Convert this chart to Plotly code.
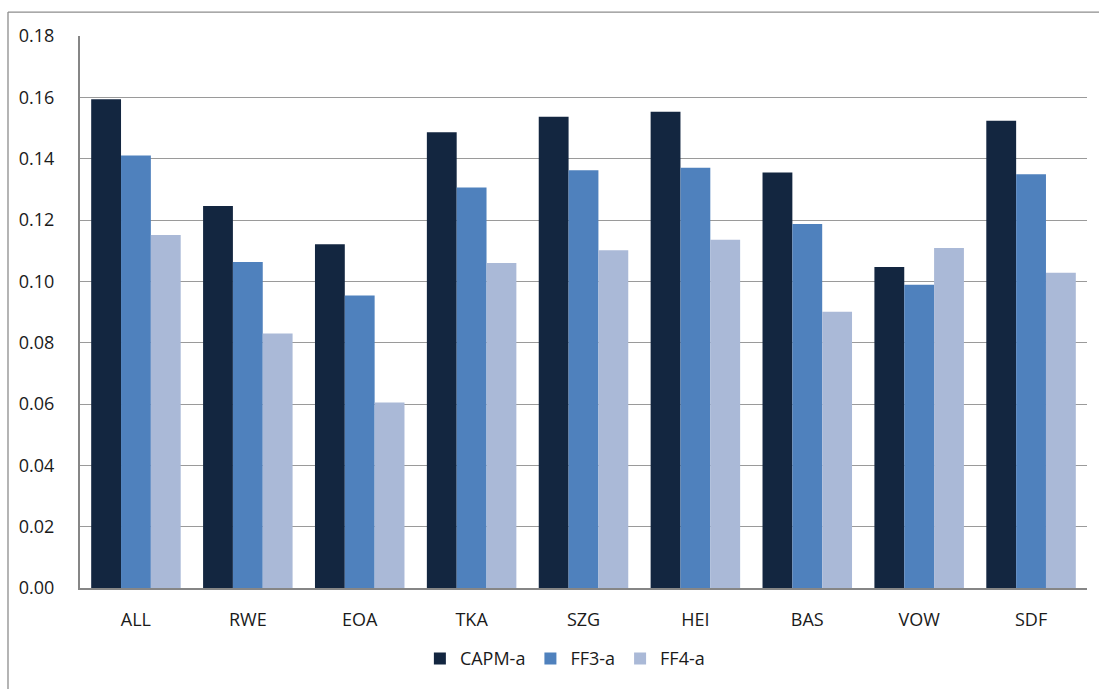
import plotly.graph_objects as go

categories = ["ALL", "RWE", "EOA", "TKA", "SZG", "HEI", "BAS", "VOW", "SDF"]
capm_a = [0.1594, 0.1246, 0.1121, 0.1486, 0.1537, 0.1553, 0.1355, 0.1047, 0.1524]
ff3_a = [0.1410, 0.1063, 0.0954, 0.1306, 0.1362, 0.1370, 0.1187, 0.0989, 0.1349]
ff4_a = [0.1151, 0.0830, 0.0605, 0.1060, 0.1101, 0.1136, 0.0901, 0.1109, 0.1028]
y_ticks = [0.00, 0.02, 0.04, 0.06, 0.08, 0.10, 0.12, 0.14, 0.16, 0.18]

FONT = "Open Sans"
FS = 18
TXT = "#1a1a1a"

fig = go.Figure()
fig.add_trace(go.Bar(name="CAPM-a", x=categories, y=capm_a, marker=dict(color="#132640", line=dict(width=0))))
fig.add_trace(go.Bar(name="FF3-a", x=categories, y=ff3_a, marker=dict(color="#4f81bd", line=dict(width=0))))
fig.add_trace(go.Bar(name="FF4-a", x=categories, y=ff4_a, marker=dict(color="#aab9d7", line=dict(width=0))))

W, H = 1099, 689
L, R, T, B = 80, 1099 - 1087, 36, 689 - 590
pw = W - L - R
ph = H - T - B

fig.update_layout(
    width=W, height=H,
    margin=dict(l=L, r=R, t=T, b=B, pad=0),
    paper_bgcolor="white", plot_bgcolor="white",
    barmode="group", bargap=0.2, bargroupgap=0,
    font=dict(family=FONT, size=FS, color=TXT),
    showlegend=True,
    legend=dict(orientation="h", x=(437 - 80) / pw - 0.017, xanchor="left",
                y=(590 - 661) / ph, yanchor="middle",
                font=dict(family=FONT, size=FS, color=TXT),
                itemwidth=30, traceorder="normal", bgcolor="rgba(0,0,0,0)"),
    xaxis=dict(showgrid=False, showline=True, linecolor="#868686", linewidth=2,
               ticks="", ticklabelstandoff=14, tickfont=dict(family=FONT, size=FS, color=TXT)),
    yaxis=dict(range=[0, 0.18], tickvals=y_ticks, ticktext=[f"{v:.2f}" for v in y_ticks],
               showgrid=True, gridcolor="#9a9a9a", gridwidth=1.3,
               showline=True, linecolor="#868686", linewidth=2, zeroline=False,
               ticks="", ticklabelstandoff=20, tickfont=dict(family=FONT, size=FS, color=TXT)),
    shapes=[
        dict(type="line", xref="paper", yref="paper",
             x0=(8 - L) / pw, x1=1.05, y0=1 + (T - 12) / ph, y1=1 + (T - 12) / ph,
             line=dict(color="#8d8d8d", width=1.3)),
        dict(type="line", xref="paper", yref="paper",
             x0=(8 - L) / pw, x1=(8 - L) / pw, y0=1 + (T - 12) / ph, y1=-0.3,
             line=dict(color="#8d8d8d", width=1.3)),
    ],
)

fig.write_html("out.html")
